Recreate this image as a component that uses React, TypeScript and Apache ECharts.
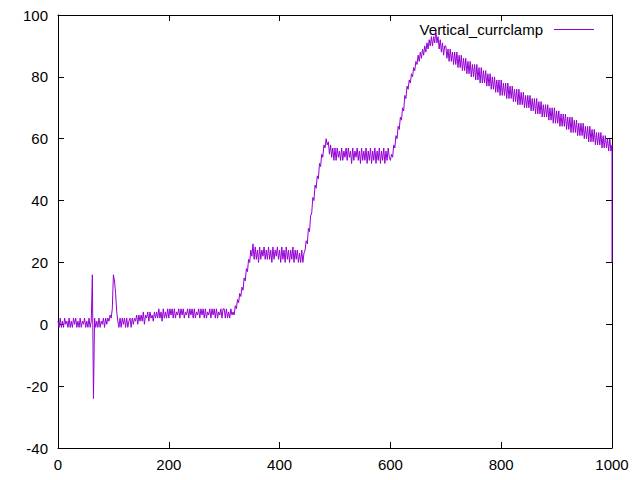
import React, { useEffect, useRef } from "react";
import * as echarts from "echarts";

// Sample spacing along the x axis (data units)
const sampleStep = 2;

// Membrane trace in blocks of 50 samples (x = 0..998)
const blockA = [1, -1, 2, -1, 1, -1, 2, 0, 1, -1, 2, -1, 1, -1, 2, 0, 2, -1, 1, -1, 2, -1, 1, 0, 2, -1, 1, -1, 2, -1, 1, 16, -24, 2, -1, 1, -1, 2, -1, 1, 0, 2, -1, 2, 0, 2, 1, 3, 2, 5];
const blockB = [16, 14, 10, 4, 1, -1, 2, -1, 2, 0, 2, -1, 2, -1, 1, 2, -1, 2, 0, 2, 1, 3, 0, 3, 1, 3, 1, 4, 0, 3, 2, 4, 1, 4, 2, 3, 1, 4, 2, 4, 2, 5, 2, 4, 1, 5, 2, 4, 2, 5];
const blockC = [2, 5, 3, 5, 2, 5, 2, 4, 3, 5, 2, 5, 3, 5, 2, 4, 3, 5, 2, 5, 3, 5, 2, 5, 2, 4, 3, 5, 2, 5, 3, 5, 2, 5, 2, 4, 3, 5, 2, 5, 3, 5, 2, 5, 2, 4, 3, 5, 2, 5];
const blockD = [5, 2, 5, 2, 4, 2, 5, 3, 4, 3, 6, 5, 8, 7, 10, 9, 12, 11, 15, 14, 18, 17, 21, 20, 24, 22, 26, 21, 25, 21, 24, 20, 25, 21, 24, 22, 25, 21, 24, 21, 25, 21, 24, 20, 25, 21, 24, 22, 25, 21];
const blockE = [24, 20, 25, 21, 24, 20, 25, 21, 24, 20, 24, 21, 25, 20, 24, 21, 24, 20, 23, 20, 24, 20, 23, 24, 27, 26, 31, 30, 35, 36, 41, 40, 45, 44, 48, 47, 52, 51, 55, 54, 58, 57, 60, 58, 59, 55, 58, 54, 57, 53];
const blockF = [57, 53, 57, 54, 56, 53, 57, 53, 56, 54, 57, 53, 57, 54, 56, 52, 57, 53, 56, 54, 57, 53, 56, 52, 57, 53, 56, 53, 57, 52, 56, 53, 57, 52, 56, 53, 57, 52, 56, 53, 57, 52, 56, 53, 57, 52, 56, 53, 57, 54];
const blockG = [53, 55, 54, 58, 57, 61, 60, 64, 63, 67, 66, 70, 69, 74, 73, 77, 76, 79, 78, 81, 80, 83, 82, 85, 84, 87, 85, 88, 86, 89, 87, 90, 88, 91, 89, 92, 90, 93, 90, 93, 91, 95, 91, 93, 89, 92, 88, 91, 87, 90];
const blockH = [90, 86, 89, 85, 89, 85, 88, 84, 88, 84, 88, 83, 87, 83, 87, 82, 86, 82, 86, 81, 85, 81, 85, 80, 84, 80, 84, 79, 84, 79, 83, 78, 83, 78, 82, 78, 82, 77, 81, 77, 81, 76, 80, 76, 80, 75, 79, 75, 79, 74];
const blockI = [79, 74, 78, 74, 78, 73, 78, 73, 77, 73, 77, 72, 76, 72, 76, 71, 76, 71, 75, 71, 75, 70, 74, 70, 74, 70, 74, 69, 73, 69, 73, 68, 73, 68, 72, 68, 72, 67, 71, 67, 71, 67, 71, 66, 70, 66, 70, 65, 70, 65];
const blockJ = [69, 65, 69, 64, 68, 64, 68, 64, 68, 63, 67, 63, 67, 62, 67, 62, 66, 62, 66, 61, 65, 61, 65, 61, 65, 60, 64, 60, 64, 59, 64, 59, 63, 59, 63, 58, 62, 58, 62, 58, 62, 57, 61, 57, 61, 57, 60, 56, 60, 56];
// final samples at x = 1000 (vertical drop at the right edge)
const tailX = [1000, 1000];
const tailY = [58, 20];

const seriesName = "Vertical_currclamp";
const xTicks = { min: 0, max: 1000, interval: 200 };
const yTicks = { min: -40, max: 100, interval: 20 };

const FONT = "'Liberation Sans', Arial, sans-serif";
const LINE_COLOR = "#9400d3";

export default function App() {
  const ref = useRef<HTMLDivElement>(null);

  useEffect(() => {
    document.body.style.margin = "0";
    if (!ref.current) return;
    const chart = echarts.init(ref.current, undefined, { renderer: "svg" });

    const values = [
      ...blockA, ...blockB, ...blockC, ...blockD, ...blockE,
      ...blockF, ...blockG, ...blockH, ...blockI, ...blockJ,
    ];
    const data: [number, number][] = values.map((v, i) => [i * sampleStep, v]);
    tailX.forEach((x, i) => data.push([x, tailY[i]]));

    const axisLine = { show: true, onZero: false, lineStyle: { color: "#000", width: 1 } };
    const axisTick = { show: true, inside: true, length: 6, lineStyle: { color: "#000", width: 1 } };
    const axisLabel = {
      color: "#000",
      fontSize: 15,
      fontFamily: FONT,
      formatter: (v: number) => String(v),
    };

    chart.setOption({
      animation: false,
      backgroundColor: "#fff",
      grid: { left: 58, right: 28, top: 15, bottom: 32, containLabel: false },
      legend: {
        show: true,
        right: 41,
        top: 17,
        align: "right",
        icon: "rect",
        itemWidth: 40,
        itemHeight: 1,
        textStyle: { color: "#000", fontSize: 15, fontFamily: FONT, padding: [0, 6, 0, 0] },
        data: [seriesName],
      },
      xAxis: [
        {
          type: "value",
          position: "bottom",
          ...xTicks,
          axisLine,
          axisTick,
          axisLabel: { ...axisLabel, margin: 9 },
          splitLine: { show: false },
        },
        {
          type: "value",
          position: "top",
          ...xTicks,
          axisLine,
          axisTick,
          axisLabel: { show: false },
          splitLine: { show: false },
        },
      ],
      yAxis: [
        {
          type: "value",
          position: "left",
          ...yTicks,
          axisLine,
          axisTick,
          axisLabel: { ...axisLabel, margin: 10 },
          splitLine: { show: false },
        },
        {
          type: "value",
          position: "right",
          ...yTicks,
          axisLine,
          axisTick,
          axisLabel: { show: false },
          splitLine: { show: false },
        },
      ],
      series: [
        {
          name: seriesName,
          type: "line",
          xAxisIndex: 0,
          yAxisIndex: 0,
          data,
          showSymbol: false,
          symbol: "none",
          lineStyle: { color: LINE_COLOR, width: 1 },
          itemStyle: { color: LINE_COLOR },
          clip: true,
        },
      ],
    });

    return () => chart.dispose();
  }, []);

  return <div ref={ref} style={{ width: 640, height: 480 }} />;
}
